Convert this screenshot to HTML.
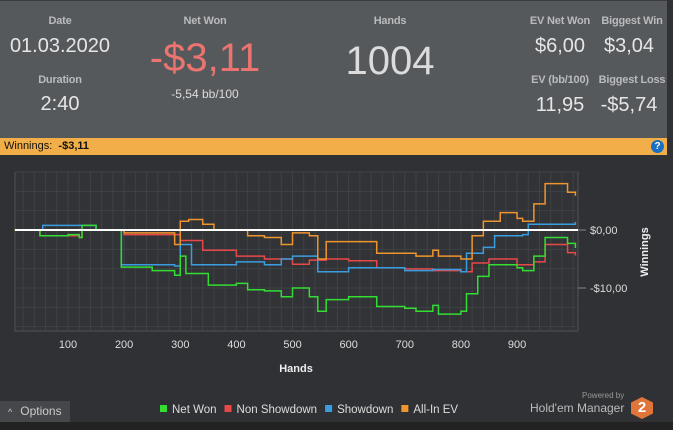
<!DOCTYPE html>
<html><head><meta charset="utf-8">
<style>
body{margin:0;width:673px;height:430px;background:#2f3134;font-family:"Liberation Sans",sans-serif;overflow:hidden;position:relative}
.hdr{position:absolute;left:0;top:0;width:667px;height:137px;background:#56595c;border-top:1px solid #3a3c3e}
.t{position:absolute;color:#c8c8c8;text-align:center;white-space:nowrap}
.lab{font-size:11px;color:#b9bbbd;font-weight:bold;letter-spacing:-0.2px}
.val{font-size:20px;color:#e6e6e6}
.bar{position:absolute;left:0;top:138px;width:667px;height:17px;background:#f2ae48;font-size:11px;line-height:17px;color:#111}
</style></head><body>
<div class="hdr">
<div class="t lab" style="left:20px;width:80px;top:14px">Date</div>
<div class="t val" style="left:0;width:120px;top:34px">01.03.2020</div>
<div class="t lab" style="left:20px;width:80px;top:73px">Duration</div>
<div class="t val" style="left:20px;width:80px;top:92px">2:40</div>
<div class="t lab" style="left:160px;width:90px;top:14px">Net Won</div>
<div class="t" style="left:130px;width:150px;top:35px;font-size:40px;color:#ec7470">-$3,11</div>
<div class="t" style="left:160px;width:90px;top:86px;font-size:12px;color:#ddd">-5,54 bb/100</div>
<div class="t lab" style="left:345px;width:90px;top:14px">Hands</div>
<div class="t" style="left:330px;width:120px;top:38px;font-size:40px;color:#dcdcdc">1004</div>
<div class="t lab" style="left:525px;width:70px;top:14px">EV Net Won</div>
<div class="t val" style="left:525px;width:70px;top:34px">$6,00</div>
<div class="t lab" style="left:597px;width:70px;top:14px">Biggest Win</div>
<div class="t val" style="left:594px;width:70px;top:34px">$3,04</div>
<div class="t lab" style="left:525px;width:70px;top:73px">EV (bb/100)</div>
<div class="t val" style="left:525px;width:70px;top:93px">11,95</div>
<div class="t lab" style="left:597px;width:70px;top:73px">Biggest Loss</div>
<div class="t val" style="left:594px;width:70px;top:93px">-$5,74</div>
</div>
<div class="bar"><span style="margin-left:4px">Winnings: &nbsp;<b>-$3,11</b></span>
<span style="position:absolute;right:3px;top:2px;width:13px;height:13px;border-radius:50%;background:#1a6fc0;color:#fff;font-size:10px;line-height:13px;text-align:center;font-weight:bold">?</span></div>
<svg id="chart" width="673" height="430" style="position:absolute;left:0;top:0"></svg>
<div style="position:absolute;left:0;top:401px;width:70px;height:21px;background:#45474a;color:#ccc;font-size:12px;line-height:21px"><span style="font-size:9px;margin:0 8px 0 8px">^</span>Options</div>
<div style="position:absolute;left:0;top:422px;width:673px;height:8px;background:#222"></div>
<div style="position:absolute;left:582px;top:391px;font-size:8px;color:#999">Powered by</div>
<div style="position:absolute;left:530px;top:401px;font-size:12px;color:#bbb">Hold'em Manager</div>
<div style="position:absolute;left:631px;top:397px;width:22px;height:22px;background:#e0753a;clip-path:polygon(50% 0,100% 25%,100% 75%,50% 100%,0 75%,0 25%);color:#fff;font-weight:bold;font-size:15px;line-height:22px;text-align:center">2</div>
<script>
const netWonH=[5,50,100,120,125,150,190,195,250,290,300,310,350,400,420,450,480,500,530,545,560,600,650,700,720,750,760,780,800,810,830,850,900,910,930,950,990,1004];
const netWonV=[0,-1,-0.8,-1.3,0.8,0,0,-6.4,-7,-7.8,-4.5,-7.5,-9.5,-9.2,-10.3,-10.5,-11.5,-10,-11.5,-14,-12,-11.5,-13.2,-13.5,-14,-13,-14.5,-14.5,-14,-11,-8,-6,-6.5,-7,-4.5,-1.3,-2.3,-3.1];
const nonSdH=[5,50,120,125,150,200,300,340,400,450,500,530,560,600,650,700,750,800,820,850,900,930,950,990,1004];
const nonSdV=[0,-1,-1.3,0,0,-0.8,-1.8,-3.5,-4.5,-5,-5.9,-5.2,-5,-5.3,-6.5,-6.7,-7,-7.2,-5.7,-5,-6,-5.5,-2.5,-3.9,-4.4];
const sdH=[5,55,120,150,190,195,290,300,315,320,350,400,450,480,500,540,545,600,650,700,750,800,810,840,860,910,920,1004];
const sdV=[0,0.8,0.8,0,0,-6,-6.2,-2.5,-2.5,-6,-6,-5.5,-6,-5,-4.5,-4.5,-7.2,-6.5,-6.5,-7,-6.8,-7.2,-4,-3,-1,-0.8,1,1.4];
const aiH=[5,200,290,300,315,340,360,400,420,450,480,500,530,545,560,600,650,700,720,750,760,800,820,840,870,900,910,930,950,990,1004];
const aiV=[0,-0.5,-2.5,1.5,1.8,1,0,0,-1,-1.3,-2.5,-0.5,-1,-5,-2,-2,-4,-4,-4.5,-3.5,-4.5,-5,-1,1.5,3,2,1.5,4.5,8,6.5,5.9];
const xTicks=[100,200,300,400,500,600,700,800,900];
const yTicks=[0,-10];
const yTickLabels=["$0,00","-$10,00"];
const legendNames=["Net Won","Non Showdown","Showdown","All-In EV"];
const colors=["#33dd33","#e84848","#3a9de0","#f0952e"];

const L=15,R=578,T=172,B=331;
const X=h=>68+(h-100)*0.5613;
const Y=v=>230-v*5.8;
const svg=document.getElementById('chart');
const NS='http://www.w3.org/2000/svg';
function mk(t,a){const e=document.createElementNS(NS,t);for(const k in a)e.setAttribute(k,a[k]);svg.appendChild(e);return e;}
const bg=mk('rect',{x:L,y:T,width:R-L,height:B-T,fill:'#313336',stroke:'#505356'});


for(let h=20;h<=1000;h+=20){const g=mk('line',{x1:X(h),x2:X(h),y1:T,y2:B,stroke:'#3f4245','stroke-width':1});

}
for(let v=10;v>=-17;v-=10/3){const g=mk('line',{x1:L,x2:R,y1:Y(v),y2:Y(v),stroke:'#3f4245','stroke-width':1});

}
xTicks.forEach(h=>{const t=mk('text',{x:X(h),y:348,fill:'#ddd','font-size':11,'text-anchor':'middle'});t.textContent=h;

});
yTicks.forEach((v,i)=>{const t=mk('text',{x:590,y:Y(v)+4,fill:'#ddd','font-size':11});t.textContent=yTickLabels[i];


const tk=mk('line',{x1:R,x2:R+8,y1:Y(v),y2:Y(v),stroke:'#888'});

});
const xt=mk('text',{x:296,y:372,fill:'#eee','font-size':11,'font-weight':'bold','text-anchor':'middle'});xt.textContent='Hands';


const yt=mk('text',{x:0,y:0,fill:'#eee','font-size':11,'font-weight':'bold','text-anchor':'middle',transform:'translate(648,252) rotate(-90)'});yt.textContent='Winnings';


function step(H,V){let p='M'+X(H[0])+','+Y(V[0]);for(let i=1;i<H.length;i++){p+=' L'+X(H[i])+','+Y(V[i-1])+' L'+X(H[i])+','+Y(V[i]);}return p;}
const series=[[nonSdH,nonSdV,1],[sdH,sdV,2],[aiH,aiV,3],[netWonH,netWonV,0]];
const snames=['line-non-showdown','line-showdown','line-all-in-ev','line-net-won'];
series.forEach((s,i)=>{const p=mk('path',{d:step(s[0],s[1]),fill:'none',stroke:colors[s[2]],'stroke-width':1.5});

});
const zl=mk('line',{x1:L,x2:R,y1:Y(0),y2:Y(0),stroke:'#fff','stroke-width':2});


let lx=160;
legendNames.forEach((n,i)=>{const r=mk('rect',{x:lx,y:405,width:7,height:7,fill:colors[i]});


const t=mk('text',{x:lx+12,y:413,fill:'#ddd','font-size':11.5});t.textContent=n;


lx+=12+t.getComputedTextLength()+8;});
</script>
</body></html>
